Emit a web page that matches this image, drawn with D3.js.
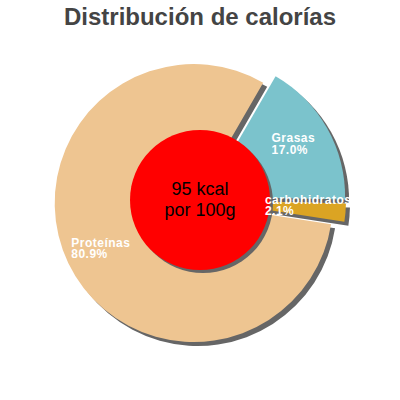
<!DOCTYPE html>
<html>
<head>
<meta charset="utf-8">
<script src="https://cdn.jsdelivr.net/npm/d3@7/dist/d3.min.js"></script>
<style>
body { margin:0; background:#fff; }
</style>
</head>
<body>
<div id="chart"></div>
<script>
// data
var categories = ["Grasas", "carbohidratos", "Proteínas"]
var percents = [17.0, 2.1, 80.9]
var colors = ["#7bc3cc", "#dba423", "#eec591"]
var kcal = 95
var title = "Distribución de calorías"

var width = 400, height = 400
var cx = 200, cy = 200
var radius = 139
var explode = 7
var rotation = 30 * Math.PI / 180
var shadowDx = 4, shadowDy = 4

// label anchors: angle (deg, clockwise from top) and distance from centre
var labelAnchor = [[51, 92], [93.5, 65], [250, 137]]

var svg = d3.select("#chart").append("svg").attr("width",width).attr("height",height)

svg.append("defs").append("clipPath").attr("id","plotclip")
	.append("rect").attr("x",0).attr("y",0).attr("width",352).attr("height",height)

svg.append("text").text(title)
	.attr("x",width/2).attr("y",25)
	.attr("text-anchor","middle")
	.attr("fill","#444")
	.style("font-family","Liberation Sans, Arial, sans-serif")
	.style("font-weight","bold")
	.style("font-size","24px")

var pie = d3.pie().sort(null).value(function(d){return d})
	.startAngle(rotation).endAngle(rotation + 2*Math.PI)
var arcs = pie(percents)
var arc = d3.arc().innerRadius(0).outerRadius(radius)

function offset(d) {
	var mid = (d.startAngle + d.endAngle) / 2
	return [Math.sin(mid) * explode, -Math.cos(mid) * explode]
}

var g = svg.append("g").attr("transform","translate("+cx+","+cy+")")

// shadows
g.selectAll("path.shadow").data(arcs).enter().append("path")
	.attr("class","shadow")
	.attr("d",arc)
	.attr("fill","#666")
	.attr("transform",function(d){var o=offset(d);return "translate("+(o[0]+shadowDx)+","+(o[1]+shadowDy)+")"})

g.selectAll("path.slice").data(arcs).enter().append("path")
	.attr("class","slice")
	.attr("d",arc)
	.attr("fill",function(d,i){return colors[i]})
	.attr("transform",function(d){var o=offset(d);return "translate("+o[0]+","+o[1]+")"})

// centre disc
g.append("circle").attr("r",70).attr("cx",3).attr("cy",3).attr("fill","#666")
g.append("circle").attr("r",70).attr("fill","#ff0000")

g.append("text").text(kcal+" kcal")
	.attr("y",-5).attr("text-anchor","middle")
	.style("font-family","Liberation Sans, Arial, sans-serif").style("font-size","18px")
g.append("text").text("por 100g")
	.attr("y",16).attr("text-anchor","middle")
	.style("font-family","Liberation Sans, Arial, sans-serif").style("font-size","18px")

// labels
var labels = svg.append("g").attr("clip-path","url(#plotclip)")
arcs.forEach(function(d,i){
	var a = labelAnchor[i][0] * Math.PI / 180
	var x = cx + Math.sin(a) * labelAnchor[i][1]
	var y = cy - Math.cos(a) * labelAnchor[i][1]
	var t = labels.append("text")
		.attr("fill","#fff")
		.style("font-family","Liberation Sans, Arial, sans-serif")
		.style("font-size","12px")
		.style("font-weight","bold")
		.style("letter-spacing","0.5px")
	t.append("tspan").attr("x",x).attr("y",y).text(categories[i])
	t.append("tspan").attr("x",x).attr("y",y+11.5).text(percents[i].toFixed(1)+"%")
})
</script>
</body>
</html>
